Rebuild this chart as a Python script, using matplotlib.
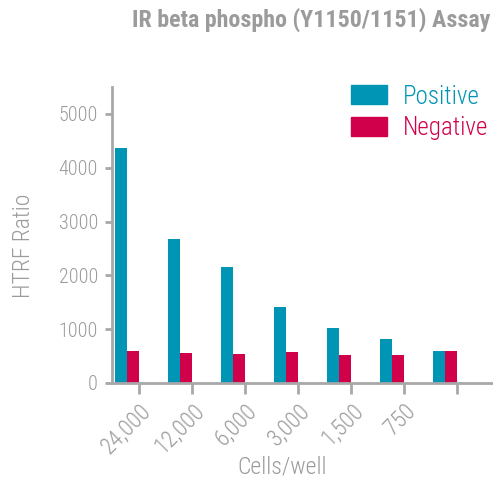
import matplotlib
matplotlib.use("Agg")
import matplotlib.pyplot as plt
import numpy as np
from matplotlib.patches import Patch

categories = ["24,000", "12,000", "6,000", "3,000", "1,500", "750", ""]
positive = [4360, 2680, 2150, 1420, 1020, 820, 590]
negative = [596, 553, 540, 572, 516, 516, 590]
yticks = [0, 1000, 2000, 3000, 4000, 5000]

TEAL = "#0095B4"
RED = "#D1004B"
GRAY = "#9B9B9B"
AXGRAY = "#A8A8A8"
FONT = ["Roboto Condensed", "Roboto", "DejaVu Sans"]
plt.rcParams["font.family"] = FONT
plt.rcParams["font.weight"] = "light"

W, H = 493, 487
fig = plt.figure(figsize=(W/100, H/100), dpi=100)
ax = fig.add_axes([112/W, (H-383)/H, (492-112)/W, (383-87)/H])

x = np.arange(len(categories))
w = 0.23
ax.bar(x - w/2, positive, width=w, color=TEAL, linewidth=0)
ax.bar(x + w/2, negative, width=w, color=RED, linewidth=0)

ax.set_xlim(-0.283, 6.89)
ax.set_ylim(0, 5500)
ax.set_yticks(yticks)
ax.set_yticklabels([str(v) for v in yticks], fontsize=14.5, color=GRAY, fontweight="light")
ax.set_xticks(x + w)
ax.set_xticklabels(categories, rotation=45, ha="right", va="top",
                   rotation_mode="anchor", fontsize=16.5, color=GRAY, fontweight="light")
ax.tick_params(axis="y", color=AXGRAY, width=2, length=5, pad=5)
ax.tick_params(axis="x", color=AXGRAY, width=2, length=8, pad=4)

for s in ["top", "right"]:
    ax.spines[s].set_visible(False)
for s in ["left", "bottom"]:
    ax.spines[s].set_color(AXGRAY)
    ax.spines[s].set_linewidth(2)

fig.text(23/W, 1 - 246/H, "HTRF Ratio", rotation=90, ha="center", va="center",
         fontsize=17, color=GRAY, fontweight="light")
fig.text(282/W, 1 - 467/H, "Cells/well", ha="center", va="center",
         fontsize=17, color=GRAY, fontweight="light")

handles = [Patch(color=TEAL, label="Positive"), Patch(color=RED, label="Negative")]
leg = ax.legend(handles=handles, loc="upper left",
                bbox_to_anchor=(328/W, 1 - 62/H), bbox_transform=fig.transFigure,
                frameon=False, prop={"size": 18, "weight": "light"},
                handlelength=1.44, handleheight=0.8,
                handletextpad=0.64, labelspacing=0.3, labelcolor=[TEAL, RED])

fig.text(490/W, 1 - 27/H, "IR beta phospho (Y1150/1151) Assay",
         ha="right", va="baseline", fontsize=17.3, fontweight="bold", color=GRAY)

fig.savefig("out.png", dpi=100)
